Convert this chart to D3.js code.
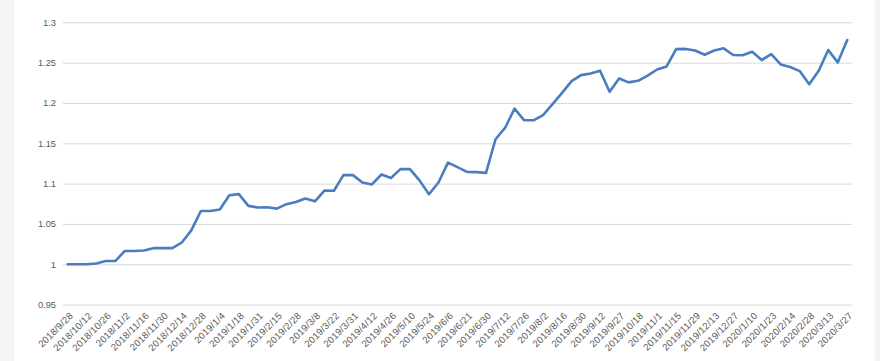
<!DOCTYPE html>
<html><head><meta charset="utf-8">
<script src="https://cdn.jsdelivr.net/npm/d3@7"></script>
<style>html,body{margin:0;padding:0;background:#fff;}svg{display:block;}</style>
</head><body>
<script>
const dates = [
"2018/9/28","2018/9/30","2018/10/12","2018/10/19","2018/10/26","2018/10/31","2018/11/2","2018/11/9","2018/11/16","2018/11/23",
"2018/11/30","2018/12/7","2018/12/14","2018/12/21","2018/12/28","2018/12/31","2019/1/4","2019/1/11","2019/1/18","2019/1/25",
"2019/1/31","2019/2/1","2019/2/15","2019/2/22","2019/2/28","2019/3/1","2019/3/8","2019/3/15","2019/3/22","2019/3/29",
"2019/3/31","2019/4/4","2019/4/12","2019/4/19","2019/4/26","2019/4/30","2019/5/10","2019/5/17","2019/5/24","2019/5/31",
"2019/6/6","2019/6/14","2019/6/21","2019/6/28","2019/6/30","2019/7/5","2019/7/12","2019/7/19","2019/7/26","2019/7/31",
"2019/8/2","2019/8/9","2019/8/16","2019/8/23","2019/8/30","2019/9/6","2019/9/12","2019/9/20","2019/9/27","2019/10/11",
"2019/10/18","2019/10/25","2019/11/1","2019/11/8","2019/11/15","2019/11/22","2019/11/29","2019/12/6","2019/12/13","2019/12/20",
"2019/12/27","2019/12/31","2020/1/10","2020/1/17","2020/1/23","2020/2/7","2020/2/14","2020/2/21","2020/2/28","2020/3/6",
"2020/3/13","2020/3/20","2020/3/27"];
const values = [
1.000,1.000,1.000,1.001,1.004,1.004,1.0165,1.0165,1.017,1.020,
1.020,1.020,1.027,1.042,1.066,1.066,1.068,1.0856,1.087,1.0724,
1.0704,1.0706,1.069,1.0745,1.0773,1.0815,1.078,1.0914,1.0912,1.1105,
1.1105,1.1014,1.099,1.1113,1.107,1.118,1.118,1.104,1.0868,1.1014,
1.126,1.1204,1.1146,1.1142,1.1133,1.155,1.169,1.193,1.1787,1.1785,
1.185,1.1986,1.2126,1.227,1.2345,1.2366,1.240,1.2138,1.2304,1.2255,
1.2275,1.234,1.2415,1.2453,1.2668,1.267,1.265,1.2598,1.265,1.2677,
1.2594,1.2592,1.2635,1.2532,1.2606,1.2478,1.2445,1.2395,1.2233,1.240,
1.2656,1.2503,1.278];
const yTicks = [0.95,1,1.05,1.1,1.15,1.2,1.25,1.3];

const W = 880, H = 361;
const svg = d3.select("body").append("svg").attr("width", W).attr("height", H);
svg.append("rect").attr("x",0).attr("y",0).attr("width",W).attr("height",H).attr("fill","#fff");
svg.append("rect").attr("x",0).attr("y",0).attr("width",14).attr("height",H).attr("fill","#f4f4f4");
svg.append("rect").attr("x",875).attr("y",0).attr("width",5).attr("height",H).attr("fill","#f4f4f4");

const x = d3.scalePoint().domain(dates).range([63, 852]).padding(0.5);
const y = d3.scaleLinear().domain([0.95, 1.3]).range([304.6, 22.3]);

const font = "'Liberation Sans', Arial, sans-serif";

// gridlines
const yAxis = d3.axisLeft(y).tickValues(yTicks).tickSize(-(852-63)).tickPadding(7)
  .tickFormat(d => d3.format("")(+d.toFixed(2)));
const gy = svg.append("g").attr("transform", "translate(63,0)").call(yAxis);
gy.select(".domain").remove();
gy.selectAll(".tick line").attr("stroke", "#d9d9d9").attr("stroke-width", 1);
gy.selectAll(".tick text").attr("fill", "#595959").style("font-family", font).style("font-size", "9.3px");

// x labels
const xAxis = d3.axisBottom(x).tickValues(dates.filter((d,i) => i % 2 === 0)).tickSize(0).tickPadding(0);
const gx = svg.append("g").attr("transform", "translate(0,314)").call(xAxis);
gx.select(".domain").remove();
gx.selectAll(".tick text")
  .attr("fill", "#595959").style("font-family", font).style("font-size", "9.6px")
  .style("letter-spacing", "0.2px")
  .attr("text-anchor", "end").attr("dy", "0.35em").attr("dx", "0")
  .attr("transform", "translate(3,0) rotate(-45)");

// line
const line = d3.line().x((d,i) => x(dates[i])).y(d => y(d));
svg.append("path").datum(values).attr("d", line)
  .attr("fill", "none").attr("stroke", "#4a7dbf").attr("stroke-width", 2.6)
  .attr("stroke-linejoin", "round").attr("stroke-linecap", "round");
</script>
</body></html>
